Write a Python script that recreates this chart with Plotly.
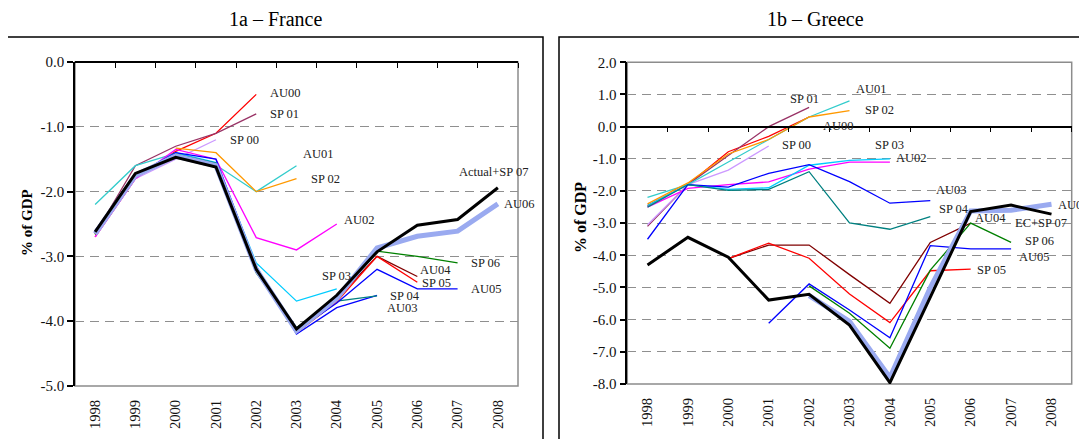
import plotly.graph_objects as go

N = None
years = list(range(1998, 2009))
year_labels = [str(y) for y in years]

# ---------------- France (% of GDP) ----------------
fr_AU00 = [-2.70, -1.80, -1.38, -1.10, -0.50, N, N, N, N, N, N]
fr_SP01 = [-2.65, -1.60, -1.30, -1.10, -0.80, N, N, N, N, N, N]
fr_SP00 = [-2.70, -1.80, -1.50, -1.20, N, N, N, N, N, N, N]
fr_AU01 = [-2.20, -1.60, -1.41, -1.59, -2.00, -1.60, N, N, N, N, N]
fr_SP02 = [N, N, -1.33, -1.40, -2.00, -1.80, N, N, N, N, N]
fr_AU02 = [-2.70, -1.80, -1.35, -1.50, -2.71, -2.90, -2.50, N, N, N, N]
fr_SP03 = [-2.65, -1.75, -1.40, -1.55, -3.10, -3.69, -3.50, N, N, N, N]
fr_AU03 = [-2.60, -1.75, -1.40, -1.50, -3.15, -4.20, -3.79, -3.60, N, N, N]
fr_SP04 = [-2.65, -1.75, -1.42, -1.56, -3.25, -4.10, -3.69, -3.61, N, N, N]
fr_AU04 = [-2.65, -1.75, -1.45, -1.60, -3.20, -4.15, -3.65, -3.00, -3.31, N, N]
fr_SP05 = [-2.66, -1.76, -1.45, -1.60, -3.22, -4.18, -3.70, -3.00, -3.40, N, N]
fr_AU05 = [-2.64, -1.74, -1.44, -1.58, -3.18, -4.15, -3.72, -3.20, -3.50, -3.50, N]
fr_SP06 = [-2.66, -1.76, -1.45, -1.60, -3.25, -4.10, -3.65, -2.92, -3.00, -3.10, N]
fr_AU06 = [-2.65, -1.75, -1.45, -1.60, -3.20, -4.15, -3.65, -2.87, -2.69, -2.61, -2.19]
fr_ACT = [-2.62, -1.72, -1.47, -1.62, -3.20, -4.12, -3.60, -2.93, -2.52, -2.43, -1.94]
fr_yticks = [0.0, -1.0, -2.0, -3.0, -4.0, -5.0]

# ---------------- Greece (% of GDP) ----------------
gr_AU00 = [-2.45, -1.80, -0.78, -0.30, 0.30, N, N, N, N, N, N]
gr_SP01 = [-3.10, -1.80, -0.90, 0.00, 0.60, N, N, N, N, N, N]
gr_SP00 = [-3.05, -1.80, -1.35, -0.60, N, N, N, N, N, N, N]
gr_AU01 = [-2.20, -1.80, -1.10, -0.40, 0.30, 0.80, N, N, N, N, N]
gr_SP02 = [-2.40, -1.75, -0.85, -0.40, 0.30, 0.50, N, N, N, N, N]
gr_AU02 = [-2.50, -1.92, -1.80, -1.72, -1.32, -1.10, -1.10, N, N, N, N]
gr_SP03 = [-2.45, -1.80, -1.95, -1.90, -1.20, -1.05, -1.00, N, N, N, N]
gr_AU03 = [-3.50, -1.80, -1.88, -1.45, -1.18, -1.71, -2.38, -2.30, N, N, N]
gr_SP04 = [-2.50, -1.80, -1.98, -1.95, -1.40, -2.99, -3.19, -2.80, N, N, N]
gr_AU04 = [N, N, -4.10, -3.68, -3.68, -4.60, -5.49, -3.60, -3.00, N, N]
gr_SP05 = [N, N, -4.10, -3.62, -4.09, -5.20, -6.09, -4.48, -4.43, N, N]
gr_AU05 = [N, N, N, -6.11, -4.89, -5.70, -6.56, -3.70, -3.80, -3.80, N]
gr_SP06 = [N, N, N, N, -4.95, -5.80, -6.89, -4.46, -3.00, -3.60, N]
gr_AU06 = [N, N, N, N, -5.25, -6.05, -7.80, -5.00, -2.62, -2.60, -2.41]
gr_ACT = [-4.30, -3.44, -4.06, -5.39, -5.21, -6.17, -7.96, -5.30, -2.64, -2.44, -2.72]
gr_yticks = [2.0, 1.0, 0.0, -1.0, -2.0, -3.0, -4.0, -5.0, -6.0, -7.0, -8.0]

fr_series = [
    ("AU00", fr_AU00), ("SP 01", fr_SP01), ("SP 00", fr_SP00), ("AU01", fr_AU01),
    ("SP 02", fr_SP02), ("AU02", fr_AU02), ("SP 03", fr_SP03), ("AU03", fr_AU03),
    ("SP 04", fr_SP04), ("AU04", fr_AU04), ("SP 05", fr_SP05), ("AU05", fr_AU05),
    ("SP 06", fr_SP06), ("AU06", fr_AU06), ("Actual+SP 07", fr_ACT),
]
gr_series = [
    ("AU00", gr_AU00), ("SP 01", gr_SP01), ("SP 00", gr_SP00), ("AU01", gr_AU01),
    ("SP 02", gr_SP02), ("AU02", gr_AU02), ("SP 03", gr_SP03), ("AU03", gr_AU03),
    ("SP 04", gr_SP04), ("AU04", gr_AU04), ("SP 05", gr_SP05), ("AU05", gr_AU05),
    ("SP 06", gr_SP06), ("AU06", gr_AU06), ("EC+SP 07", gr_ACT),
]

# ---------------- styles ----------------
style = {
    "AU00": ("#FF0000", 1.3), "SP 01": ("#993366", 1.3), "SP 00": ("#CC99FF", 1.3),
    "AU01": ("#33CCCC", 1.3), "SP 02": ("#FF9900", 1.3), "AU02": ("#FF00FF", 1.3),
    "SP 03": ("#00CCFF", 1.3), "AU03": ("#0000FF", 1.3), "SP 04": ("#008080", 1.3),
    "AU04": ("#800000", 1.3), "SP 05": ("#FF0000", 1.3), "AU05": ("#0000FF", 1.3),
    "SP 06": ("#008000", 1.3), "AU06": ("#9AAAF0", 5.0),
    "Actual+SP 07": ("#000000", 3.0), "EC+SP 07": ("#000000", 3.0),
}
# label offsets in pixels (xshift, yshift) relative to each series' last point
fr_lab = {
    "AU00": (12, 1), "SP 01": (12, 0), "SP 00": (12, 0), "AU01": (4, 12),
    "SP 02": (12, 0), "AU02": (5, 4), "SP 03": (-17, 13), "AU03": (8, -13),
    "SP 04": (11, 0), "AU04": (1, 6), "SP 05": (3, -1), "AU05": (11, 0),
    "SP 06": (11, 0), "AU06": (4, 0), "Actual+SP 07": (-41, 16),
}
gr_lab = {
    "AU00": (12, -9), "SP 01": (-21, 8), "SP 00": (11, 1), "AU01": (4, 12),
    "SP 02": (13, 1), "AU02": (4, 4), "SP 03": (-17, 14), "AU03": (4, 11),
    "SP 04": (7, 8), "AU04": (2, 5), "SP 05": (4, -1), "AU05": (6, -8),
    "SP 06": (12, 1), "AU06": (4, -1), "EC+SP 07": (-39, -9),
}

W, H = 1087, 439
OFF = 8  # default page margin of the html body
FONT = "Liberation Serif, Times New Roman, serif"


def px(x):
    return (x - OFF) / W


def py(y):
    return 1 - (y - OFF) / H


fig = go.Figure()


def order(series):
    thin = [s for s in series if style[s[0]][1] < 2]
    thick = [s for s in series if style[s[0]][1] >= 2]
    thick.sort(key=lambda s: -style[s[0]][1])
    return thin + thick


def add_panel(series, labels, xa, ya):
    for name, vals in order(series):
        col, w = style[name]
        fig.add_trace(go.Scatter(x=years, y=vals, mode="lines", name=name,
                                 line=dict(color=col, width=w),
                                 connectgaps=False, showlegend=False,
                                 xaxis=xa, yaxis=ya, hoverinfo="skip"))
    for name, vals in series:
        idx = max(i for i, v in enumerate(vals) if v is not None)
        dx, dy = labels[name]
        fig.add_annotation(x=years[idx], y=vals[idx], xref=xa, yref=ya,
                           text=name, showarrow=False, xanchor="left",
                           yanchor="middle", xshift=dx, yshift=dy,
                           font=dict(family=FONT, size=12.5, color="#222"))


add_panel(fr_series, fr_lab, "x", "y")
add_panel(gr_series, gr_lab, "x2", "y2")

# panel geometry (pixels)
fr_xd = [px(75), px(518)]
fr_yd = [py(386), py(62)]
gr_xd = [px(627.3), px(1071.7)]
gr_yd = [py(384), py(62.3)]
xr = [years[0] - 0.5, years[-1] + 0.5]
fr_yr = [min(fr_yticks), max(fr_yticks)]
gr_yr = [min(gr_yticks), max(gr_yticks)]

grid = dict(showgrid=True, gridcolor="#8f8f8f", griddash="9px,6px", gridwidth=1.2)
yax = dict(showline=True, linecolor="black", linewidth=1.5, ticks="outside",
           ticklen=6, tickwidth=1.5, tickcolor="black", zeroline=False,
           tickfont=dict(family=FONT, size=15, color="#111"), automargin=False, **grid)
xax = dict(range=xr, tickvals=years, ticktext=year_labels, tickangle=-90,
           showline=False, ticks="", showgrid=False, zeroline=False,
           ticklabelstandoff=10,
           tickfont=dict(family=FONT, size=14.5, color="#111"), automargin=False)

fig.update_layout(
    width=W, height=H, margin=dict(l=0, r=0, t=0, b=0, pad=0),
    paper_bgcolor="white", plot_bgcolor="white",
    xaxis=dict(domain=fr_xd, anchor="y", **xax),
    yaxis=dict(domain=fr_yd, anchor="x", range=fr_yr, tickvals=fr_yticks,
               ticktext=[f"{v:.1f}" for v in fr_yticks], **yax),
    xaxis2=dict(domain=gr_xd, anchor="y2", **xax),
    yaxis2=dict(domain=gr_yd, anchor="x2", range=gr_yr, tickvals=gr_yticks,
                ticktext=[f"{v:.1f}" for v in gr_yticks], **yax),
)


# zero-crossing category axes (line at y=0 with ticks between categories)
def zero_pos(yd, yr):
    return yd[0] + (0 - yr[0]) / (yr[1] - yr[0]) * (yd[1] - yd[0])


bounds = [y + 0.5 for y in years]
zax = dict(range=xr, tickvals=bounds, showticklabels=False, ticks="outside",
           ticklen=5, tickwidth=1.2, tickcolor="black", showline=True,
           linecolor="black", linewidth=1.5, showgrid=False, zeroline=False,
           anchor="free", side="bottom")
fig.update_layout(
    xaxis3=dict(overlaying="x", position=zero_pos(fr_yd, fr_yr), **zax),
    xaxis4=dict(overlaying="x2", position=zero_pos(gr_yd, gr_yr), **zax),
)
fig.add_trace(go.Scatter(x=[None], y=[None], xaxis="x3", yaxis="y", showlegend=False, hoverinfo="skip"))
fig.add_trace(go.Scatter(x=[None], y=[None], xaxis="x4", yaxis="y2", showlegend=False, hoverinfo="skip"))

# plot-area borders (grey) and panel frames (black)
for xd, yd in ((fr_xd, fr_yd), (gr_xd, gr_yd)):
    fig.add_shape(type="rect", xref="paper", yref="paper", x0=xd[0], x1=xd[1],
                  y0=yd[0], y1=yd[1], line=dict(color="#8c8c8c", width=1.5),
                  layer="below")
fig.add_shape(type="rect", xref="paper", yref="paper", x0=px(7), x1=px(543),
              y0=-0.05, y1=py(37), line=dict(color="black", width=1.5))
fig.add_shape(type="rect", xref="paper", yref="paper", x0=px(559), x1=1.05,
              y0=-0.05, y1=py(37), line=dict(color="black", width=1.5))

# titles
for txt, x in (("1a – France", 275), ("1b – Greece", 815)):
    fig.add_annotation(x=px(x), y=py(19), xref="paper", yref="paper",
                       xanchor="center", yanchor="middle",
                       text=txt, showarrow=False,
                       font=dict(family=FONT, size=20, color="black"))
for x, y, s in ((27, 223, 15), (581, 218, 16)):
    fig.add_annotation(x=px(x), y=py(y), xref="paper", yref="paper",
                       xanchor="center", yanchor="middle",
                       text="<b>% of GDP</b>", textangle=-90, showarrow=False,
                       font=dict(family=FONT, size=s, color="black"))

fig.write_html("out.html")
